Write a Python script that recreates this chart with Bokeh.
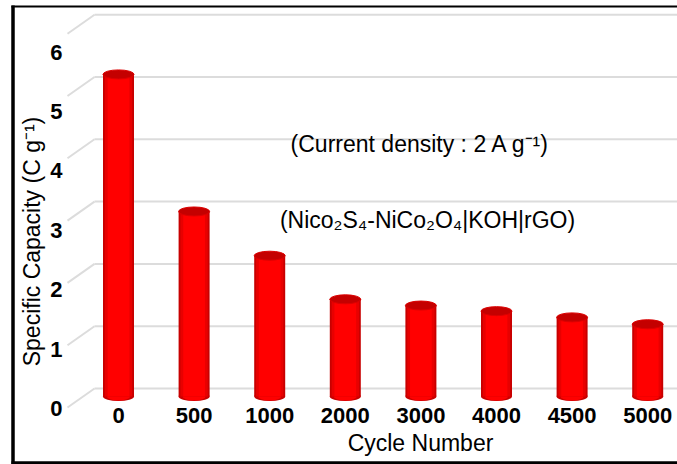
from math import pi
from bokeh.plotting import figure
from bokeh.models import Range1d
from bokeh.core.properties import value
from bokeh.embed import file_html
from bokeh.resources import INLINE

# ---------------- data ----------------
cycles = ["0", "500", "1000", "2000", "3000", "4000", "4500", "5000"]
capacity = [5.17, 2.97, 2.26, 1.56, 1.46, 1.37, 1.27, 1.16]
y_ticks = [0, 1, 2, 3, 4, 5, 6]
y_tick_labels = ["0", "1", "2", "3", "4", "5", "6"]
y_title = "Specific Capacity (C g\u207b\u00b9)"
x_title = "Cycle Number"
note1 = "(Current density : 2 A g\u207b\u00b9)"
note2 = "(Nico\u2082S\u2084-NiCo\u2082O\u2084|KOH|rGO)"

# ---------------- layout constants (pixels) ----------------
W, H = 677, 464
BAR0_X, BAR_STEP = 118, 75.6      # first bar centre, spacing
BASE_Y, UNIT = 396, 62.3          # bar base line, px per unit
WALL_Y = 388                      # back-wall zero line
DEPTH_X, DEPTH_Y = 27, 19         # perspective offset of grid
LAB_Y, LAB_UNIT = 408, 59.4       # tick label positions
FONT = value("Liberation Sans")

idx = list(range(len(cycles)))

p = figure(width=W, height=H, output_backend="svg", toolbar_location=None,
           x_range=Range1d(-BAR0_X / BAR_STEP, (W - BAR0_X) / BAR_STEP),
           y_range=Range1d(-(H - BASE_Y) / UNIT, BASE_Y / UNIT),
           x_axis_location=None, y_axis_location=None,
           min_border=0, outline_line_color=None,
           background_fill_color="white", border_fill_color="white")
p.grid.visible = False
p.extra_x_ranges = {"px": Range1d(0, W)}
p.extra_y_ranges = {
    "px": Range1d(H, 0),
    "wall": Range1d(-(H - WALL_Y) / UNIT, WALL_Y / UNIT),
    "lab": Range1d(-(H - LAB_Y) / LAB_UNIT, LAB_Y / LAB_UNIT),
}

# ---------------- 3D grid ----------------
wall_x0 = 94
n = len(y_ticks)
p.segment(x0=[wall_x0] * n, y0=y_ticks, x1=[W] * n, y1=y_ticks,
          x_range_name="px", y_range_name="wall",
          line_color="#dcdcdc", line_width=2)
p.segment(x0=[wall_x0 - DEPTH_X] * n, y0=[v - DEPTH_Y / UNIT for v in y_ticks],
          x1=[wall_x0] * n, y1=y_ticks,
          x_range_name="px", y_range_name="wall",
          line_color="#dcdcdc", line_width=2)

# ---------------- cylinders ----------------
bw = 31 / BAR_STEP
eh = 9 / UNIT
zeros = [0] * len(idx)
p.ellipse(x=idx, y=zeros, width=bw, height=eh, fill_color="#c80000", line_color=None)
p.ellipse(x=idx, y=zeros, width=bw * 0.75, height=eh * 0.9, fill_color="#ff0000", line_color=None)
p.vbar(x=idx, bottom=0, top=capacity, width=bw, fill_color="#c80000", line_color=None)
p.vbar(x=idx, bottom=0, top=capacity, width=bw * 0.88, fill_color="#e80000", line_color=None)
p.vbar(x=idx, bottom=0, top=capacity, width=bw * 0.7, fill_color="#ff0000", line_color=None)
p.ellipse(x=idx, y=capacity, width=bw, height=eh, fill_color="#c40000",
          line_color="#dc0000", line_width=1)

# ---------------- tick labels ----------------
p.text(x=[62] * n, y=y_ticks, text=y_tick_labels,
       x_range_name="px", y_range_name="lab",
       text_align="right", text_baseline="middle",
       text_font=FONT, text_font_style="bold", text_font_size="22px",
       text_color="black")
p.text(x=idx, y=[415] * len(idx), text=cycles, y_range_name="px",
       text_align="center", text_baseline="middle",
       text_font=FONT, text_font_style="bold", text_font_size="22px",
       text_color="black")

# ---------------- titles and notes ----------------
p.text(x=[31], y=[241], text=[y_title], angle=pi / 2,
       x_range_name="px", y_range_name="px",
       text_align="center", text_baseline="middle",
       text_font=FONT, text_font_size="23px", text_color="black")
p.text(x=[420], y=[442], text=[x_title],
       x_range_name="px", y_range_name="px",
       text_align="center", text_baseline="middle",
       text_font=FONT, text_font_size="23px", text_color="black")
p.text(x=[420, 427], y=[143, 219], text=[note1, note2],
       x_range_name="px", y_range_name="px",
       text_align="center", text_baseline="middle",
       text_font=FONT, text_font_size="23px", text_color="black")

# ---------------- outer frame ----------------
p.segment(x0=[12.5, 11, 11], y0=[5, 6, 462.5], x1=[12.5, W, W], y1=[H, 6, 462.5],
          x_range_name="px", y_range_name="px",
          line_color="black", line_width=[3.5, 2, 3.5])

open("out.html", "w").write(file_html(p, INLINE))
